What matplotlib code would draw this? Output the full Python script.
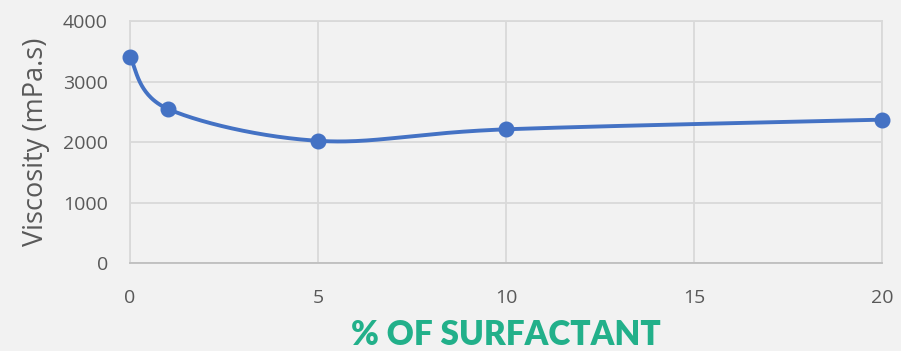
import numpy as np
import matplotlib
matplotlib.use("Agg")
import matplotlib.pyplot as plt

# Surfactant loading (%) and measured viscosity (mPa.s)
surfactant_pct = [0, 1, 5, 10, 20]
viscosity = [3400, 2550, 2020, 2210, 2370]

x_ticks = [0, 5, 10, 15, 20]
y_ticks = [0, 1000, 2000, 3000, 4000]

BG = "#F2F2F2"
GRID = "#D9D9D9"
LINE = "#4472C4"
TEXT = "#595959"
TITLE = "#22B08A"


def smooth_curve(ax, xs, ys, n=60, tension=1 / 6):
    """Bezier-smoothed path through the points, computed in display space."""
    pts = ax.transData.transform(np.column_stack([xs, ys]))
    out = []
    m = len(pts)
    for i in range(m - 1):
        p0 = pts[i - 1] if i > 0 else pts[i]
        p1 = pts[i]
        p2 = pts[i + 1]
        p3 = pts[i + 2] if i + 2 < m else pts[i + 1]
        c1 = p1 + (p2 - p0) * tension
        c2 = p2 - (p3 - p1) * tension
        t = np.linspace(0, 1, n)[:, None]
        seg = ((1 - t) ** 3) * p1 + 3 * ((1 - t) ** 2) * t * c1 + 3 * (1 - t) * t ** 2 * c2 + t ** 3 * p2
        out.append(seg if i == 0 else seg[1:])
    path = np.vstack(out)
    return ax.transData.inverted().transform(path)


fig = plt.figure(figsize=(9.01, 3.51), dpi=100)
fig.patch.set_facecolor(BG)
ax = fig.add_axes([0.1443, 0.2507, 0.8347, 0.6893])
ax.set_facecolor(BG)

ax.set_xlim(0, 20)
ax.set_ylim(0, 4000)
ax.set_xticks(x_ticks)
ax.set_yticks(y_ticks)
ax.grid(True, color=GRID, linewidth=1.3)
ax.set_axisbelow(True)
for side in ["top", "right", "left"]:
    ax.spines[side].set_color(GRID)
    ax.spines[side].set_linewidth(1.3)
ax.spines["bottom"].set_color("#BFBFBF")
ax.spines["bottom"].set_linewidth(1.3)
ax.tick_params(length=0, colors=TEXT, labelsize=14)
ax.tick_params(axis="x", pad=19)
ax.tick_params(axis="y", pad=16)
for lab in ax.get_xticklabels() + ax.get_yticklabels():
    lab.set_fontfamily("Open Sans")

curve = smooth_curve(ax, surfactant_pct, viscosity)
ax.plot(curve[:, 0], curve[:, 1], color=LINE, linewidth=2.8, solid_capstyle="round", clip_on=False, zorder=3)
ax.plot(surfactant_pct, viscosity, "o", color=LINE, markersize=10.5, clip_on=False, zorder=4)

ax.set_ylabel("Viscosity (mPa.s)", fontsize=19.5, color=TEXT, family="Open Sans", labelpad=9)
ax.set_xlabel("% OF SURFACTANT", fontsize=24, color=TITLE, family="Lato", fontweight="heavy", labelpad=8)

fig.savefig("out.png", dpi=100, facecolor=BG)
